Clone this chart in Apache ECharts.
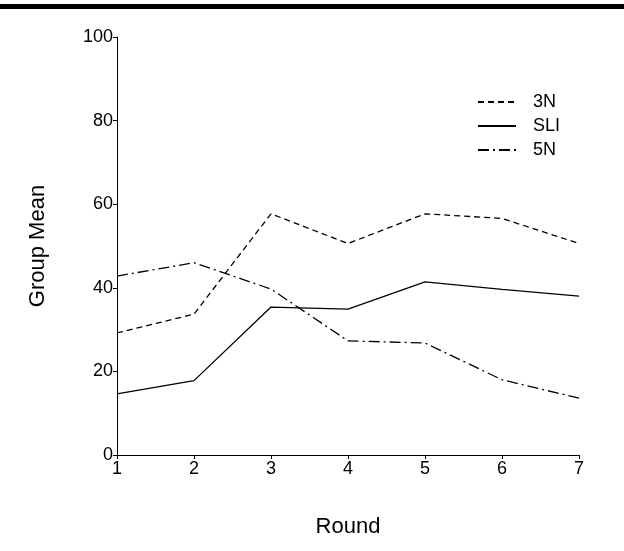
<!DOCTYPE html>
<html>
<head>
<meta charset="utf-8">
<script src="https://cdn.jsdelivr.net/npm/echarts@6/dist/echarts.min.js"></script>
<style>
  html, body { margin: 0; padding: 0; background: #fff; }
  #chart { width: 624px; height: 551px; }
</style>
</head>
<body>
<div id="chart"></div>
<script>
// Rounds on the x axis
const rounds = [1, 2, 3, 4, 5, 6, 7];
// Group means per round
const mean3N  = [29.2, 33.7, 57.7, 50.6, 57.7, 56.6, 50.6];
const meanSLI = [14.6, 17.8, 35.4, 34.9, 41.4, 39.6, 38.0];
const mean5N  = [42.8, 46.0, 39.7, 27.3, 26.8, 18.0, 13.6];
const seriesNames = ['3N', 'SLI', '5N'];
const yTicks = [0, 20, 40, 60, 80, 100];

const FONT = 'Liberation Sans, Arial, sans-serif';

function pairs(vals) { return rounds.map((r, i) => [r, vals[i]]); }

const chart = echarts.init(document.getElementById('chart'), null, { renderer: 'canvas' });

const lineBase = { color: '#000', width: 1.3 };

chart.setOption({
  animation: false,
  backgroundColor: '#fff',
  grid: { left: 117, right: 45, top: 37, bottom: 96, containLabel: false },
  graphic: [
    { type: 'rect', shape: { x: 0, y: 4, width: 624, height: 5 }, style: { fill: '#000' } }
  ],
  legend: {
    orient: 'vertical',
    left: 472,
    top: 88,
    itemWidth: 38,
    itemHeight: 14,
    itemGap: 6,
    data: seriesNames,
    itemStyle: { opacity: 0 },
    textStyle: { fontFamily: FONT, fontSize: 18, color: '#000', padding: [0, 0, 0, 12] }
  },
  xAxis: {
    type: 'value',
    min: 1, max: 7, interval: 1,
    name: 'Round',
    nameLocation: 'middle',
    nameGap: 61,
    nameTextStyle: { fontFamily: FONT, fontSize: 22, color: '#000' },
    axisLine: { lineStyle: { color: '#000', width: 1 } },
    axisTick: { length: 4, lineStyle: { color: '#000' } },
    axisLabel: { fontFamily: FONT, fontSize: 18, color: '#000', margin: 5 },
    splitLine: { show: false }
  },
  yAxis: {
    type: 'value',
    min: yTicks[0], max: yTicks[yTicks.length - 1], interval: 20,
    name: 'Group Mean',
    nameLocation: 'middle',
    nameGap: 68,
    nameRotate: 90,
    nameTextStyle: { fontFamily: FONT, fontSize: 22, color: '#000' },
    axisLine: { show: true, lineStyle: { color: '#000', width: 1 } },
    axisTick: { show: true, length: 4, lineStyle: { color: '#000' } },
    axisLabel: { fontFamily: FONT, fontSize: 18, color: '#000', margin: 4 },
    splitLine: { show: false }
  },
  series: [
    {
      name: '3N', type: 'line', symbol: 'none', data: pairs(mean3N),
      itemStyle: { color: '#000' },
      lineStyle: Object.assign({}, lineBase, { type: [6, 4] })
    },
    {
      name: 'SLI', type: 'line', symbol: 'none', data: pairs(meanSLI),
      itemStyle: { color: '#000' },
      lineStyle: Object.assign({}, lineBase, { type: 'solid' })
    },
    {
      name: '5N', type: 'line', symbol: 'none', data: pairs(mean5N),
      itemStyle: { color: '#000' },
      lineStyle: Object.assign({}, lineBase, { type: [11, 4, 2, 4] })
    }
  ]
});
</script>
</body>
</html>
